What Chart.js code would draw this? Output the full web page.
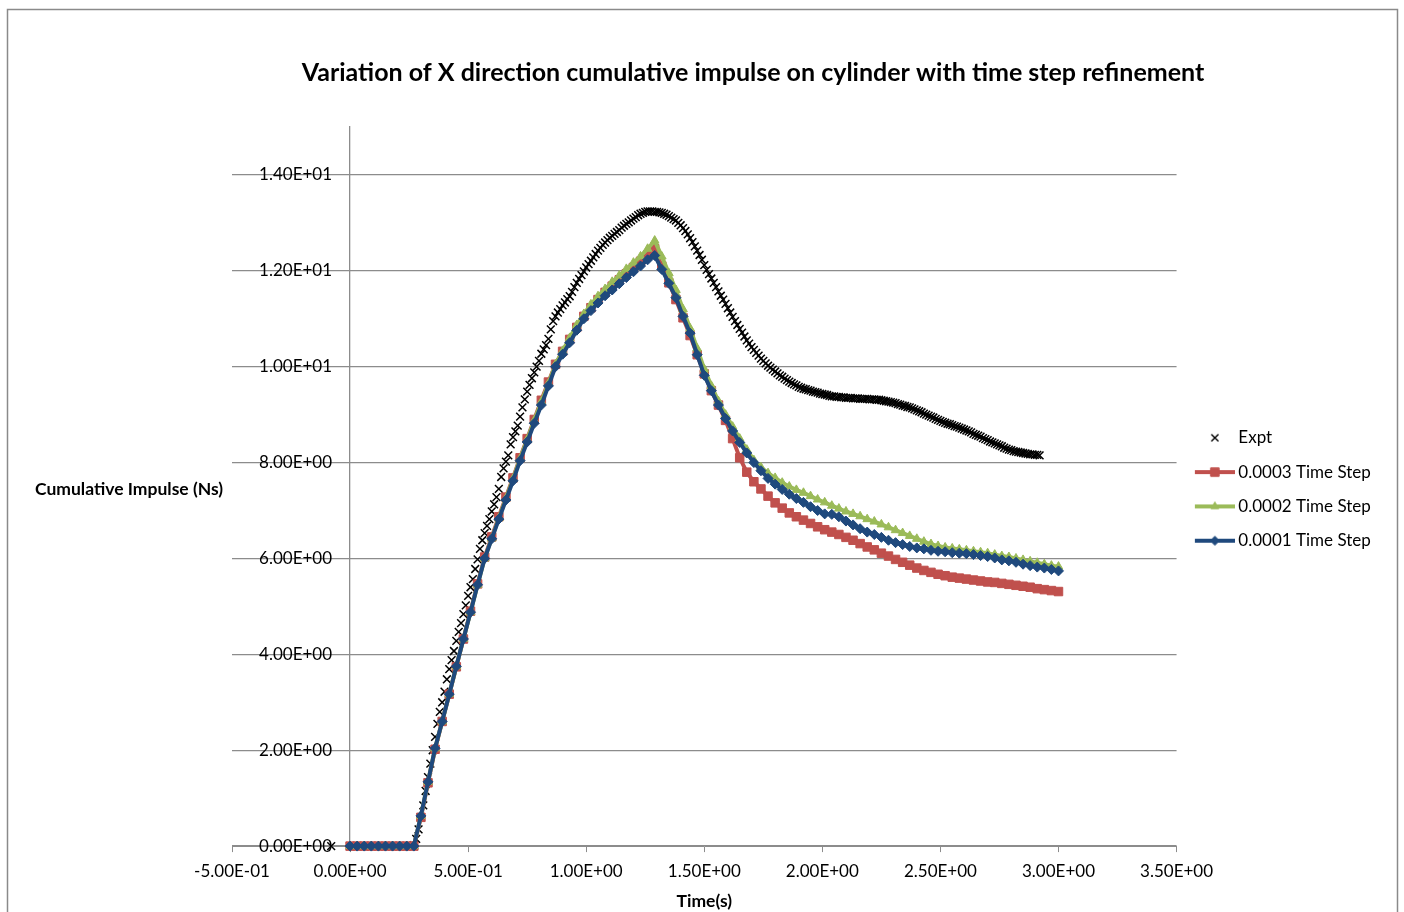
<!DOCTYPE html>
<html>
<head>
<meta charset="utf-8">
<title>Cumulative impulse – time step refinement</title>
<script src="https://cdn.jsdelivr.net/npm/chart.js@4/dist/chart.umd.min.js"></script>
<style>
  html, body { margin: 0; padding: 0; background: #fff; }
  #wrap { position: relative; width: 1404px; height: 912px; }
</style>
</head>
<body>
<div id="wrap"><canvas id="c" width="1404" height="912"></canvas></div>
<script>
// ---- Chart text ----
const chartTitle = 'Variation of X direction cumulative impulse on cylinder with time step refinement';
const xAxisTitle = 'Time(s)';
const yAxisTitle = 'Cumulative Impulse (Ns)';
const seriesNames = ['Expt', '0.0003 Time Step', '0.0002 Time Step', '0.0001 Time Step'];

// ---- Axis ranges ----
const xRange = [-0.5, 3.5];
const xStep = 0.5;
const yRange = [0, 15];
const yStep = 2;

// ---- Experimental record (sampled every 0.01 s from 0.27 s) ----
const exptPreTime = [-0.08];
const exptPreImpulse = [0];
const exptStart = 0.27;
const exptStep = 0.01;
const exptImpulse = [
  0.02,0.15,0.35,0.6,0.85,1.15,1.44,1.72,2.0,2.28,
  2.55,2.8,3.0,3.22,3.48,3.69,3.88,4.07,4.28,4.47,
  4.65,4.84,5.02,5.22,5.4,5.57,5.78,5.98,6.2,6.38,
  6.53,6.68,6.82,6.98,7.13,7.28,7.45,7.7,7.88,8.02,
  8.15,8.38,8.53,8.65,8.77,8.96,9.15,9.32,9.48,9.62,
  9.76,9.88,10.0,10.12,10.27,10.36,10.45,10.58,10.78,10.95,
  11.05,11.13,11.2,11.28,11.34,11.41,11.47,11.56,11.66,11.75,
  11.83,11.91,11.99,12.07,12.14,12.21,12.28,12.35,12.42,12.48,
  12.54,12.59,12.64,12.69,12.73,12.77,12.81,12.85,12.9,12.94,
  12.98,13.01,13.05,13.09,13.12,13.16,13.19,13.21,13.23,13.24,
  13.24,13.24,13.23,13.23,13.22,13.21,13.19,13.17,13.14,13.11,
  13.08,13.05,13.0,12.95,12.89,12.83,12.76,12.68,12.6,12.51,
  12.42,12.33,12.23,12.12,12.02,11.93,11.84,11.75,11.66,11.57,
  11.48,11.4,11.31,11.22,11.13,11.04,10.95,10.87,10.79,10.71,
  10.63,10.55,10.48,10.41,10.35,10.29,10.23,10.17,10.12,10.07,
  10.02,9.98,9.94,9.9,9.86,9.82,9.79,9.75,9.72,9.69,
  9.66,9.63,9.61,9.58,9.56,9.54,9.53,9.51,9.5,9.48,
  9.47,9.46,9.44,9.43,9.42,9.41,9.39,9.38,9.38,9.37,
  9.37,9.36,9.36,9.35,9.35,9.35,9.34,9.34,9.34,9.33,
  9.33,9.33,9.33,9.32,9.32,9.32,9.31,9.31,9.3,9.29,
  9.28,9.27,9.26,9.25,9.24,9.22,9.21,9.19,9.18,9.16,
  9.15,9.13,9.11,9.09,9.07,9.05,9.02,9.0,8.98,8.96,
  8.94,8.91,8.89,8.87,8.85,8.83,8.81,8.8,8.78,8.76,
  8.75,8.73,8.71,8.69,8.67,8.65,8.63,8.6,8.58,8.56,
  8.54,8.51,8.49,8.47,8.44,8.42,8.4,8.38,8.36,8.34,
  8.31,8.29,8.27,8.26,8.24,8.23,8.22,8.21,8.2,8.19,
  8.18,8.17,8.17,8.16,8.16,8.15
];

// ---- Simulation output (written every 0.03 s from 0 s) ----
const simStep = 0.03;
const impulseDt3 = [
  0,0,0,0,0,0,0,0,0,0,
  0.6,1.32,2.02,2.6,3.17,3.74,4.32,4.9,5.47,6.03,
  6.45,6.87,7.28,7.68,8.1,8.5,8.9,9.3,9.68,10.05,
  10.32,10.57,10.82,11.05,11.23,11.4,11.55,11.68,11.81,11.94,
  12.07,12.2,12.33,12.46,12.1,11.75,11.4,11.02,10.65,10.25,
  9.85,9.5,9.2,8.88,8.5,8.1,7.8,7.6,7.45,7.3,
  7.16,7.05,6.95,6.87,6.8,6.73,6.66,6.6,6.55,6.5,
  6.44,6.38,6.31,6.24,6.18,6.11,6.05,5.98,5.92,5.86,
  5.8,5.75,5.71,5.67,5.64,5.61,5.59,5.57,5.55,5.53,
  5.51,5.5,5.48,5.46,5.44,5.42,5.4,5.37,5.35,5.33,
  5.31
];
const impulseDt2 = [
  0,0,0,0,0,0,0,0,0,0,
  0.63,1.34,2.04,2.6,3.17,3.75,4.32,4.88,5.45,6.0,
  6.42,6.84,7.25,7.66,8.08,8.48,8.88,9.27,9.65,10.05,
  10.33,10.6,10.87,11.1,11.3,11.47,11.62,11.77,11.9,12.04,
  12.17,12.3,12.46,12.63,12.3,11.95,11.6,11.2,10.8,10.38,
  9.95,9.6,9.28,9.0,8.75,8.5,8.27,8.05,7.9,7.78,
  7.68,7.58,7.5,7.43,7.37,7.3,7.23,7.17,7.1,7.04,
  6.98,6.93,6.88,6.82,6.77,6.71,6.65,6.59,6.53,6.47,
  6.41,6.35,6.3,6.26,6.23,6.21,6.19,6.17,6.15,6.13,
  6.11,6.08,6.05,6.03,6.0,5.97,5.94,5.91,5.88,5.85,
  5.83
];
const impulseDt1 = [
  0,0,0,0,0,0,0,0,0,0,
  0.63,1.34,2.04,2.6,3.17,3.75,4.32,4.88,5.45,6.0,
  6.41,6.82,7.22,7.62,8.04,8.43,8.82,9.2,9.6,10.0,
  10.26,10.5,10.76,11.0,11.17,11.33,11.48,11.6,11.73,11.86,
  11.98,12.1,12.23,12.32,12.03,11.74,11.44,11.05,10.7,10.25,
  9.82,9.5,9.2,8.92,8.66,8.42,8.2,8.0,7.83,7.67,
  7.55,7.44,7.34,7.25,7.17,7.08,7.0,6.93,6.92,6.87,
  6.78,6.7,6.62,6.55,6.5,6.44,6.38,6.33,6.29,6.25,
  6.22,6.2,6.17,6.15,6.14,6.12,6.11,6.1,6.08,6.06,
  6.04,6.01,5.97,5.95,5.92,5.88,5.85,5.82,5.8,5.77,
  5.74
];

// ---- Styling ----
const FONT = "Lato, 'Liberation Sans', 'DejaVu Sans', sans-serif";
const GRID = '#8c8c8c';
const COLORS = { expt: '#000000', dt3: '#C0504D', dt2: '#9BBB59', dt1: '#1F497D' };
const LINE_W = 4;

Chart.defaults.font.family = FONT;
Chart.defaults.color = '#000';

// Value axis that crosses the time axis at t = 0: its tick labels sit
// to the left of the crossing line, separated by the tick padding.
class CrossingLinearScale extends Chart.LinearScale {
  _computeLabelItems(chartArea) {
    const items = super._computeLabelItems(chartArea);
    const gap = this.options.ticks.padding || 0;
    items.forEach((it) => { it.options.translation[0] -= gap; });
    return items;
  }
}
CrossingLinearScale.id = 'crossingLinear';
CrossingLinearScale.defaults = Chart.LinearScale.defaults;
Chart.register(CrossingLinearScale);

// Scientific labels in the "1.40E+01" form
function sci(v) {
  const parts = Number(v).toExponential(2).split('e');
  const sign = parts[1][0];
  const digits = parts[1].slice(1).padStart(2, '0');
  return parts[0] + 'E' + sign + digits;
}

function toPoints(times, values) {
  return values.map((v, i) => ({ x: times[i], y: v }));
}

const simTimes = impulseDt1.map((_, k) => +(k * simStep).toFixed(2));
const exptTimes = exptImpulse.map((_, k) => +(exptStart + k * exptStep).toFixed(2));

const exptPoints = toPoints(exptPreTime, exptPreImpulse).concat(toPoints(exptTimes, exptImpulse));

// Legend swatches: a short line with the series marker on it
function swatch(color, style, radius, withLine) {
  const c = document.createElement('canvas');
  c.width = 46; c.height = 16;
  const g = c.getContext('2d');
  if (withLine) {
    g.strokeStyle = color; g.lineWidth = LINE_W;
    g.beginPath(); g.moveTo(6, 8); g.lineTo(46, 8); g.stroke();
  }
  g.fillStyle = color; g.strokeStyle = color; g.lineWidth = withLine ? 1 : 1.4;
  Chart.helpers.drawPoint(g, { pointStyle: style, rotation: 0, radius: radius, borderWidth: g.lineWidth }, 26, 8);
  return c;
}
const legendSwatches = [
  swatch(COLORS.expt, 'crossRot', 5, false),
  swatch(COLORS.dt3, 'rect', 6, true),
  swatch(COLORS.dt2, 'triangle', 4.5, true),
  swatch(COLORS.dt1, 'rectRot', 4.5, true)
];

// White page and the frame around the whole chart
const framePlugin = {
  id: 'frame',
  beforeDraw(chart) {
    const ctx = chart.ctx;
    ctx.save();
    ctx.fillStyle = '#fff';
    ctx.fillRect(0, 0, chart.width, chart.height);
    ctx.strokeStyle = '#8a8a8a';
    ctx.lineWidth = 1.5;
    ctx.strokeRect(7.5, 9.5, 1390, 930);
    ctx.restore();
  }
};

// Chart heading and the horizontal value-axis title
const headingPlugin = {
  id: 'heading',
  afterDraw(chart) {
    const { ctx, chartArea } = chart;
    ctx.save();
    ctx.fillStyle = '#000';
    ctx.textBaseline = 'middle';
    ctx.font = 'bold 25px ' + FONT;
    ctx.textAlign = 'center';
    ctx.fillText(chartTitle, 753, 73);
    ctx.font = 'bold 17.5px ' + FONT;
    ctx.textAlign = 'left';
    ctx.fillText(yAxisTitle, 35, (chartArea.top + chartArea.bottom) / 2 + 3);
    ctx.restore();
  }
};

new Chart(document.getElementById('c'), {
  type: 'line',
  data: {
    datasets: [
      {
        label: seriesNames[0],
        data: exptPoints,
        showLine: false,
        pointStyle: 'crossRot',
        pointRadius: 5.5,
        pointBorderWidth: 1.5,
        pointBorderColor: COLORS.expt,
        pointBackgroundColor: COLORS.expt,
        borderColor: COLORS.expt,
        order: 3,
        clip: false
      },
      {
        label: seriesNames[1],
        data: toPoints(simTimes, impulseDt3),
        borderColor: COLORS.dt3,
        backgroundColor: COLORS.dt3,
        borderWidth: LINE_W,
        pointStyle: 'rect',
        pointRadius: 6,
        pointBorderWidth: 1,
        pointBackgroundColor: COLORS.dt3,
        pointBorderColor: COLORS.dt3,
        order: 2,
        clip: false
      },
      {
        label: seriesNames[2],
        data: toPoints(simTimes, impulseDt2),
        borderColor: COLORS.dt2,
        backgroundColor: COLORS.dt2,
        borderWidth: LINE_W,
        pointStyle: 'triangle',
        pointRadius: 5,
        pointBorderWidth: 1,
        pointBackgroundColor: COLORS.dt2,
        pointBorderColor: COLORS.dt2,
        order: 1,
        clip: false
      },
      {
        label: seriesNames[3],
        data: toPoints(simTimes, impulseDt1),
        borderColor: COLORS.dt1,
        backgroundColor: COLORS.dt1,
        borderWidth: LINE_W,
        pointStyle: 'rectRot',
        pointRadius: 5,
        pointBorderWidth: 1,
        pointBackgroundColor: COLORS.dt1,
        pointBorderColor: COLORS.dt1,
        order: 0,
        clip: false
      }
    ]
  },
  options: {
    responsive: false,
    animation: false,
    events: [],
    layout: { padding: { left: 232, right: 23.2, top: 127, bottom: 0 } },
    elements: { line: { tension: 0 } },
    scales: {
      x: {
        type: 'linear',
        position: 'bottom',
        min: xRange[0],
        max: xRange[1],
        ticks: {
          stepSize: xStep,
          padding: 9,
          font: { size: 17 },
          color: '#000',
          maxRotation: 0,
          callback: (v) => sci(v)
        },
        grid: {
          drawOnChartArea: false,
          drawTicks: true,
          tickLength: 6,
          color: GRID,
          lineWidth: 1
        },
        border: { color: GRID, width: 1 },
        title: {
          display: true,
          text: xAxisTitle,
          font: { size: 17.5, weight: 'bold' },
          color: '#000',
          padding: { top: 0, bottom: 0.5 }
        }
      },
      y: {
        type: 'crossingLinear',
        position: { x: 0 },
        min: yRange[0],
        max: yRange[1],
        ticks: {
          stepSize: yStep,
          padding: 18,
          font: { size: 17 },
          color: '#000',
          callback: (v) => (v > 14 ? '' : sci(v))
        },
        grid: {
          drawTicks: false,
          color: (ctx) => (ctx.tick && ctx.tick.value > 14 ? 'rgba(0,0,0,0)' : GRID),
          lineWidth: 1.3
        },
        border: { color: GRID, width: 1.3 }
      }
    },
    plugins: {
      title: { display: false },
      legend: {
        position: 'right',
        align: 'start',
        title: { display: true, text: '', font: { size: 17 }, padding: { top: 0, bottom: 264.6 } },
        labels: {
          usePointStyle: true,
          pointStyleWidth: 36,
          padding: 17.3,
          font: { size: 17 },
          color: '#000',
          sort: (a, b) => a.datasetIndex - b.datasetIndex,
          generateLabels(chart) {
            const items = Chart.defaults.plugins.legend.labels.generateLabels(chart);
            items.forEach((it) => { it.pointStyle = legendSwatches[it.datasetIndex]; });
            return items;
          }
        }
      },
      tooltip: { enabled: false }
    }
  },
  plugins: [framePlugin, headingPlugin]
});
</script>
</body>
</html>
